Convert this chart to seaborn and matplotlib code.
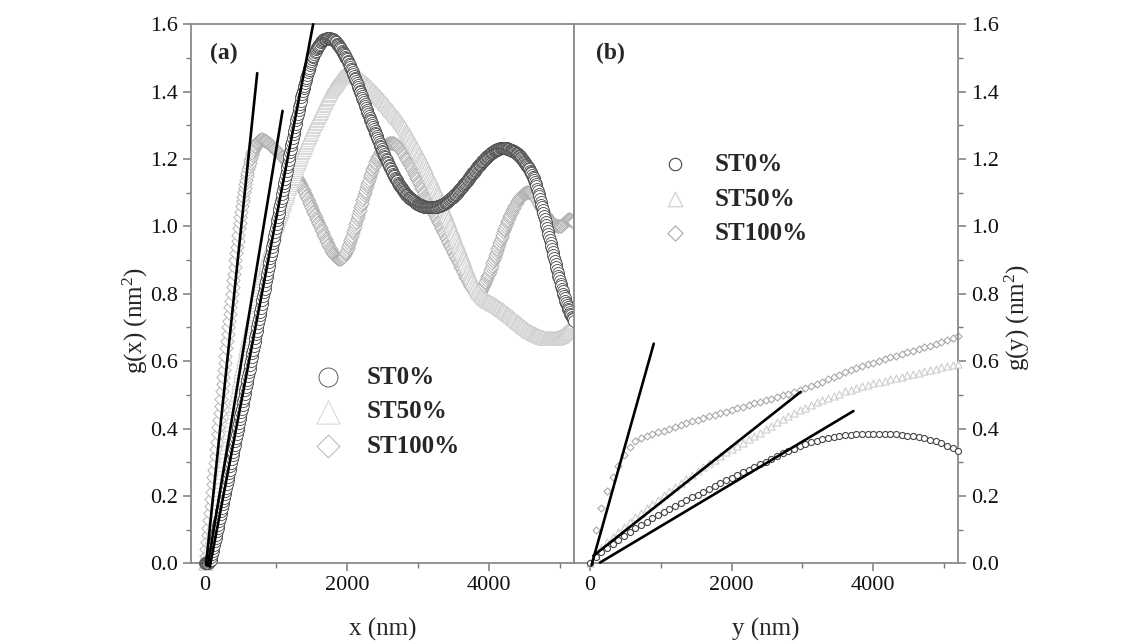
import matplotlib
matplotlib.use("Agg")
import matplotlib.pyplot as plt
from matplotlib.ticker import MultipleLocator, FormatStrFormatter
import seaborn as sns

# ---------------------------------------------------------------- data
# lag positions (nm): 10 nm steps along x, 80 nm steps along y
lag_x = list(range(0, 5201, 10))
lag_y = list(range(0, 5201, 80))

series_labels = ["ST0%", "ST50%", "ST100%"]

# g(x) (nm^2) along x, one row per 100 nm
gx_st0 = [
    0.000, 0.000, 0.000, 0.000, 0.000, 0.001, 0.003, 0.006, 0.010, 0.018,
    0.027, 0.036, 0.045, 0.055, 0.065, 0.075, 0.085, 0.095, 0.105, 0.115,
    0.125, 0.135, 0.145, 0.155, 0.165, 0.175, 0.185, 0.195, 0.205, 0.215,
    0.225, 0.236, 0.246, 0.257, 0.267, 0.278, 0.288, 0.299, 0.309, 0.320,
    0.330, 0.341, 0.352, 0.363, 0.373, 0.384, 0.395, 0.405, 0.416, 0.427,
    0.438, 0.448, 0.459, 0.470, 0.481, 0.491, 0.502, 0.513, 0.524, 0.534,
    0.545, 0.556, 0.567, 0.578, 0.590, 0.601, 0.612, 0.623, 0.634, 0.646,
    0.657, 0.668, 0.680, 0.691, 0.702, 0.714, 0.725, 0.736, 0.747, 0.759,
    0.770, 0.781, 0.792, 0.804, 0.815, 0.826, 0.837, 0.849, 0.860, 0.871,
    0.883, 0.894, 0.905, 0.916, 0.928, 0.939, 0.950, 0.961, 0.973, 0.984,
    0.995, 1.006, 1.018, 1.029, 1.040, 1.051, 1.063, 1.074, 1.085, 1.096,
    1.108, 1.119, 1.130, 1.141, 1.153, 1.164, 1.175, 1.186, 1.198, 1.209,
    1.220, 1.231, 1.242, 1.252, 1.263, 1.273, 1.284, 1.294, 1.305, 1.315,
    1.325, 1.335, 1.345, 1.355, 1.364, 1.373, 1.383, 1.392, 1.401, 1.410,
    1.418, 1.426, 1.434, 1.442, 1.450, 1.457, 1.464, 1.471, 1.478, 1.484,
    1.490, 1.496, 1.502, 1.507, 1.512, 1.517, 1.522, 1.526, 1.530, 1.534,
    1.537, 1.540, 1.543, 1.546, 1.548, 1.550, 1.552, 1.554, 1.555, 1.556,
    1.557, 1.557, 1.558, 1.558, 1.558, 1.558, 1.558, 1.557, 1.557, 1.556,
    1.555, 1.553, 1.552, 1.550, 1.548, 1.546, 1.543, 1.541, 1.538, 1.535,
    1.532, 1.529, 1.526, 1.522, 1.519, 1.515, 1.512, 1.508, 1.504, 1.500,
    1.496, 1.491, 1.487, 1.482, 1.478, 1.473, 1.468, 1.463, 1.458, 1.453,
    1.448, 1.442, 1.437, 1.431, 1.426, 1.420, 1.415, 1.409, 1.403, 1.398,
    1.392, 1.386, 1.380, 1.375, 1.369, 1.363, 1.357, 1.352, 1.346, 1.340,
    1.335, 1.329, 1.323, 1.317, 1.312, 1.306, 1.300, 1.295, 1.289, 1.284,
    1.278, 1.273, 1.267, 1.262, 1.256, 1.251, 1.246, 1.240, 1.235, 1.230,
    1.225, 1.220, 1.215, 1.210, 1.205, 1.201, 1.196, 1.191, 1.187, 1.182,
    1.178, 1.174, 1.169, 1.165, 1.161, 1.157, 1.153, 1.149, 1.145, 1.141,
    1.138, 1.134, 1.130, 1.127, 1.124, 1.120, 1.117, 1.114, 1.111, 1.108,
    1.105, 1.102, 1.099, 1.097, 1.094, 1.092, 1.089, 1.087, 1.085, 1.083,
    1.082, 1.080, 1.078, 1.077, 1.075, 1.074, 1.072, 1.071, 1.069, 1.068,
    1.067, 1.066, 1.065, 1.064, 1.063, 1.062, 1.061, 1.060, 1.060, 1.059,
    1.059, 1.058, 1.058, 1.058, 1.057, 1.057, 1.057, 1.057, 1.057, 1.057,
    1.057, 1.057, 1.057, 1.058, 1.058, 1.058, 1.059, 1.059, 1.060, 1.061,
    1.062, 1.062, 1.063, 1.064, 1.065, 1.066, 1.067, 1.068, 1.069, 1.071,
    1.072, 1.073, 1.075, 1.076, 1.078, 1.080, 1.081, 1.083, 1.085, 1.087,
    1.089, 1.091, 1.093, 1.095, 1.097, 1.100, 1.102, 1.105, 1.107, 1.110,
    1.112, 1.115, 1.117, 1.120, 1.122, 1.125, 1.128, 1.130, 1.133, 1.136,
    1.139, 1.141, 1.144, 1.147, 1.149, 1.152, 1.155, 1.158, 1.160, 1.163,
    1.166, 1.168, 1.171, 1.173, 1.176, 1.178, 1.181, 1.183, 1.186, 1.188,
    1.191, 1.193, 1.195, 1.197, 1.200, 1.202, 1.204, 1.206, 1.208, 1.210,
    1.212, 1.214, 1.216, 1.217, 1.219, 1.220, 1.222, 1.223, 1.225, 1.226,
    1.227, 1.228, 1.229, 1.230, 1.231, 1.231, 1.232, 1.232, 1.233, 1.233,
    1.233, 1.233, 1.233, 1.233, 1.232, 1.232, 1.231, 1.231, 1.230, 1.229,
    1.228, 1.227, 1.226, 1.225, 1.224, 1.223, 1.221, 1.220, 1.218, 1.217,
    1.216, 1.214, 1.212, 1.210, 1.208, 1.206, 1.203, 1.201, 1.198, 1.195,
    1.192, 1.189, 1.186, 1.183, 1.180, 1.176, 1.173, 1.169, 1.166, 1.162,
    1.158, 1.153, 1.148, 1.143, 1.138, 1.132, 1.126, 1.119, 1.112, 1.105,
    1.097, 1.089, 1.081, 1.073, 1.065, 1.057, 1.048, 1.040, 1.031, 1.023,
    1.014, 1.005, 0.996, 0.987, 0.978, 0.969, 0.960, 0.951, 0.942, 0.933,
    0.924, 0.915, 0.906, 0.897, 0.888, 0.879, 0.871, 0.863, 0.854, 0.846,
    0.838, 0.830, 0.822, 0.815, 0.808, 0.800, 0.793, 0.787, 0.780, 0.774,
    0.768, 0.762, 0.756, 0.751, 0.746, 0.741, 0.736, 0.732, 0.728, 0.724,
    0.720,
]
gx_st50 = [
    0.000, 0.002, 0.006, 0.012, 0.020, 0.030, 0.042, 0.055, 0.068, 0.082,
    0.095, 0.108, 0.120, 0.133, 0.145, 0.158, 0.170, 0.183, 0.195, 0.208,
    0.220, 0.233, 0.245, 0.258, 0.270, 0.283, 0.295, 0.308, 0.320, 0.333,
    0.345, 0.357, 0.368, 0.380, 0.391, 0.403, 0.414, 0.426, 0.437, 0.449,
    0.460, 0.471, 0.482, 0.493, 0.504, 0.515, 0.526, 0.537, 0.548, 0.559,
    0.570, 0.580, 0.590, 0.600, 0.610, 0.620, 0.630, 0.640, 0.650, 0.660,
    0.670, 0.679, 0.689, 0.698, 0.707, 0.716, 0.726, 0.735, 0.744, 0.753,
    0.763, 0.771, 0.780, 0.789, 0.798, 0.806, 0.815, 0.824, 0.833, 0.841,
    0.850, 0.858, 0.865, 0.873, 0.880, 0.888, 0.895, 0.903, 0.910, 0.918,
    0.925, 0.933, 0.940, 0.948, 0.955, 0.963, 0.970, 0.978, 0.985, 0.993,
    1.000, 1.006, 1.013, 1.019, 1.025, 1.031, 1.038, 1.044, 1.050, 1.056,
    1.063, 1.069, 1.075, 1.081, 1.088, 1.094, 1.100, 1.106, 1.113, 1.119,
    1.125, 1.131, 1.137, 1.143, 1.148, 1.154, 1.160, 1.166, 1.171, 1.177,
    1.183, 1.188, 1.194, 1.199, 1.204, 1.209, 1.214, 1.220, 1.225, 1.230,
    1.235, 1.240, 1.245, 1.250, 1.254, 1.259, 1.264, 1.269, 1.273, 1.278,
    1.283, 1.288, 1.292, 1.297, 1.301, 1.306, 1.310, 1.315, 1.319, 1.324,
    1.328, 1.332, 1.337, 1.341, 1.346, 1.350, 1.355, 1.359, 1.364, 1.368,
    1.373, 1.377, 1.381, 1.385, 1.389, 1.393, 1.397, 1.401, 1.405, 1.408,
    1.412, 1.415, 1.418, 1.421, 1.424, 1.427, 1.430, 1.433, 1.436, 1.438,
    1.441, 1.443, 1.445, 1.447, 1.449, 1.450, 1.451, 1.452, 1.453, 1.454,
    1.455, 1.455, 1.456, 1.456, 1.456, 1.455, 1.455, 1.454, 1.453, 1.452,
    1.451, 1.450, 1.449, 1.448, 1.446, 1.445, 1.443, 1.442, 1.440, 1.439,
    1.438, 1.436, 1.434, 1.432, 1.430, 1.428, 1.426, 1.424, 1.422, 1.421,
    1.419, 1.417, 1.415, 1.413, 1.410, 1.408, 1.406, 1.404, 1.401, 1.399,
    1.397, 1.395, 1.393, 1.390, 1.388, 1.386, 1.384, 1.381, 1.379, 1.377,
    1.375, 1.372, 1.370, 1.367, 1.365, 1.362, 1.360, 1.357, 1.355, 1.352,
    1.350, 1.347, 1.345, 1.342, 1.339, 1.337, 1.334, 1.331, 1.329, 1.326,
    1.324, 1.321, 1.318, 1.315, 1.312, 1.309, 1.306, 1.303, 1.300, 1.297,
    1.294, 1.291, 1.287, 1.284, 1.281, 1.277, 1.274, 1.270, 1.267, 1.263,
    1.260, 1.256, 1.252, 1.249, 1.245, 1.241, 1.237, 1.234, 1.230, 1.226,
    1.222, 1.218, 1.214, 1.210, 1.206, 1.201, 1.197, 1.193, 1.189, 1.185,
    1.181, 1.176, 1.172, 1.167, 1.163, 1.158, 1.154, 1.149, 1.145, 1.140,
    1.136, 1.131, 1.126, 1.122, 1.117, 1.112, 1.107, 1.102, 1.098, 1.093,
    1.088, 1.083, 1.078, 1.073, 1.068, 1.063, 1.058, 1.052, 1.047, 1.042,
    1.037, 1.032, 1.026, 1.021, 1.016, 1.011, 1.005, 1.000, 0.995, 0.989,
    0.984, 0.979, 0.973, 0.968, 0.962, 0.957, 0.951, 0.946, 0.940, 0.935,
    0.929, 0.924, 0.918, 0.913, 0.907, 0.902, 0.896, 0.891, 0.885, 0.880,
    0.874, 0.869, 0.863, 0.858, 0.853, 0.848, 0.843, 0.838, 0.833, 0.828,
    0.823, 0.819, 0.815, 0.811, 0.808, 0.805, 0.802, 0.799, 0.797, 0.795,
    0.793, 0.791, 0.789, 0.788, 0.786, 0.785, 0.783, 0.782, 0.780, 0.779,
    0.778, 0.777, 0.775, 0.774, 0.773, 0.772, 0.770, 0.769, 0.768, 0.767,
    0.766, 0.764, 0.763, 0.761, 0.760, 0.758, 0.757, 0.755, 0.754, 0.752,
    0.751, 0.749, 0.748, 0.746, 0.744, 0.743, 0.741, 0.739, 0.738, 0.736,
    0.735, 0.733, 0.731, 0.729, 0.728, 0.726, 0.724, 0.722, 0.720, 0.719,
    0.717, 0.715, 0.714, 0.712, 0.710, 0.709, 0.707, 0.705, 0.703, 0.702,
    0.700, 0.698, 0.697, 0.696, 0.694, 0.693, 0.691, 0.690, 0.689, 0.687,
    0.686, 0.685, 0.684, 0.683, 0.682, 0.681, 0.680, 0.679, 0.678, 0.677,
    0.676, 0.675, 0.674, 0.673, 0.673, 0.672, 0.671, 0.671, 0.670, 0.670,
    0.669, 0.669, 0.669, 0.668, 0.668, 0.668, 0.668, 0.668, 0.668, 0.668,
    0.668, 0.669, 0.669, 0.669, 0.670, 0.670, 0.671, 0.671, 0.672, 0.673,
    0.674, 0.675, 0.676, 0.678, 0.679, 0.681, 0.683, 0.684, 0.686, 0.688,
    0.690, 0.693, 0.696, 0.698, 0.701, 0.704, 0.707, 0.710, 0.714, 0.717,
    0.720,
]
gx_st100 = [
    0.000, 0.021, 0.043, 0.064, 0.085, 0.106, 0.128, 0.149, 0.170, 0.191,
    0.213, 0.234, 0.255, 0.276, 0.298, 0.319, 0.340, 0.361, 0.383, 0.404,
    0.425, 0.446, 0.468, 0.489, 0.510, 0.531, 0.553, 0.574, 0.595, 0.616,
    0.638, 0.659, 0.680, 0.700, 0.720, 0.740, 0.760, 0.780, 0.800, 0.820,
    0.840, 0.860, 0.880, 0.900, 0.920, 0.939, 0.958, 0.976, 0.995, 1.011,
    1.028, 1.044, 1.060, 1.074, 1.088, 1.101, 1.115, 1.127, 1.138, 1.149,
    1.160, 1.170, 1.179, 1.188, 1.197, 1.204, 1.211, 1.218, 1.225, 1.230,
    1.235, 1.240, 1.245, 1.248, 1.251, 1.253, 1.256, 1.257, 1.258, 1.259,
    1.259, 1.259, 1.258, 1.257, 1.256, 1.255, 1.253, 1.252, 1.250, 1.248,
    1.247, 1.245, 1.243, 1.241, 1.239, 1.237, 1.235, 1.233, 1.231, 1.229,
    1.227, 1.225, 1.223, 1.221, 1.219, 1.217, 1.214, 1.212, 1.210, 1.207,
    1.205, 1.203, 1.200, 1.198, 1.195, 1.192, 1.189, 1.186, 1.184, 1.181,
    1.178, 1.175, 1.172, 1.168, 1.165, 1.161, 1.158, 1.154, 1.151, 1.147,
    1.144, 1.140, 1.136, 1.132, 1.128, 1.124, 1.120, 1.116, 1.111, 1.107,
    1.103, 1.098, 1.094, 1.089, 1.085, 1.080, 1.075, 1.071, 1.066, 1.061,
    1.057, 1.052, 1.047, 1.042, 1.038, 1.033, 1.028, 1.023, 1.019, 1.014,
    1.009, 1.004, 1.000, 0.995, 0.990, 0.985, 0.981, 0.976, 0.971, 0.967,
    0.962, 0.958, 0.953, 0.949, 0.945, 0.940, 0.936, 0.932, 0.928, 0.925,
    0.921, 0.918, 0.915, 0.912, 0.910, 0.908, 0.906, 0.905, 0.904, 0.904,
    0.904, 0.904, 0.905, 0.906, 0.908, 0.910, 0.913, 0.917, 0.921, 0.925,
    0.930, 0.935, 0.941, 0.947, 0.953, 0.959, 0.966, 0.972, 0.979, 0.985,
    0.992, 0.999, 1.006, 1.014, 1.021, 1.028, 1.035, 1.042, 1.050, 1.057,
    1.064, 1.071, 1.078, 1.085, 1.092, 1.099, 1.106, 1.113, 1.120, 1.126,
    1.133, 1.139, 1.146, 1.152, 1.158, 1.164, 1.169, 1.175, 1.180, 1.186,
    1.191, 1.196, 1.200, 1.205, 1.209, 1.213, 1.217, 1.220, 1.224, 1.227,
    1.230, 1.233, 1.235, 1.238, 1.240, 1.242, 1.243, 1.245, 1.246, 1.247,
    1.248, 1.248, 1.249, 1.249, 1.248, 1.248, 1.247, 1.246, 1.245, 1.243,
    1.241, 1.239, 1.237, 1.234, 1.232, 1.229, 1.226, 1.223, 1.220, 1.218,
    1.215, 1.211, 1.207, 1.203, 1.200, 1.196, 1.192, 1.188, 1.184, 1.181,
    1.178, 1.174, 1.170, 1.166, 1.161, 1.157, 1.153, 1.149, 1.144, 1.140,
    1.136, 1.132, 1.128, 1.123, 1.119, 1.115, 1.111, 1.106, 1.102, 1.098,
    1.094, 1.089, 1.085, 1.081, 1.077, 1.072, 1.068, 1.064, 1.060, 1.055,
    1.051, 1.047, 1.043, 1.038, 1.034, 1.030, 1.026, 1.021, 1.017, 1.013,
    1.009, 1.004, 1.000, 0.996, 0.992, 0.987, 0.983, 0.979, 0.975, 0.970,
    0.966, 0.962, 0.958, 0.953, 0.949, 0.945, 0.941, 0.936, 0.932, 0.928,
    0.924, 0.919, 0.915, 0.911, 0.907, 0.902, 0.898, 0.894, 0.890, 0.885,
    0.881, 0.877, 0.873, 0.868, 0.864, 0.860, 0.856, 0.851, 0.847, 0.843,
    0.839, 0.835, 0.831, 0.827, 0.823, 0.819, 0.816, 0.813, 0.810, 0.807,
    0.805, 0.803, 0.801, 0.800, 0.800, 0.800, 0.801, 0.803, 0.805, 0.809,
    0.813, 0.817, 0.821, 0.826, 0.831, 0.836, 0.841, 0.847, 0.852, 0.856,
    0.860, 0.866, 0.872, 0.878, 0.884, 0.890, 0.897, 0.903, 0.909, 0.915,
    0.921, 0.927, 0.934, 0.940, 0.946, 0.952, 0.958, 0.964, 0.970, 0.976,
    0.982, 0.988, 0.993, 0.999, 1.004, 1.009, 1.015, 1.020, 1.025, 1.030,
    1.035, 1.039, 1.044, 1.048, 1.052, 1.056, 1.060, 1.064, 1.068, 1.071,
    1.075, 1.078, 1.081, 1.084, 1.086, 1.089, 1.091, 1.093, 1.095, 1.097,
    1.098, 1.099, 1.100, 1.101, 1.102, 1.102, 1.102, 1.102, 1.101, 1.100,
    1.099, 1.097, 1.095, 1.093, 1.090, 1.087, 1.084, 1.080, 1.077, 1.073,
    1.070, 1.066, 1.062, 1.058, 1.055, 1.051, 1.047, 1.044, 1.040, 1.037,
    1.033, 1.030, 1.027, 1.024, 1.021, 1.018, 1.016, 1.013, 1.011, 1.009,
    1.008, 1.006, 1.005, 1.004, 1.003, 1.002, 1.001, 1.000, 1.000, 1.000,
    1.000, 1.001, 1.002, 1.004, 1.006, 1.008, 1.010, 1.012, 1.014, 1.016,
    1.018, 1.020, 1.021, 1.021, 1.021, 1.020, 1.019, 1.017, 1.015, 1.013,
    1.012,
]

# g(y) (nm^2) along y
gy_st0 = [
    0.000, 0.018, 0.033, 0.046, 0.058, 0.070, 0.082, 0.093, 0.104, 0.114,
    0.124, 0.134, 0.143, 0.152, 0.161, 0.170, 0.179, 0.187, 0.196, 0.204,
    0.213, 0.221, 0.229, 0.238, 0.246, 0.254, 0.262, 0.270, 0.278, 0.286,
    0.294, 0.302, 0.310, 0.318, 0.326, 0.333, 0.340, 0.347, 0.353, 0.359,
    0.364, 0.368, 0.372, 0.375, 0.378, 0.380, 0.382, 0.383, 0.384, 0.385,
    0.385, 0.385, 0.385, 0.384, 0.383, 0.381, 0.379, 0.377, 0.374, 0.371,
    0.367, 0.362, 0.356, 0.349, 0.341, 0.333,
]
gy_st50 = [
    0.000, 0.025, 0.045, 0.062, 0.078, 0.093, 0.108, 0.122, 0.136, 0.150,
    0.163, 0.176, 0.189, 0.202, 0.215, 0.227, 0.239, 0.251, 0.263, 0.275,
    0.286, 0.297, 0.308, 0.319, 0.330, 0.340, 0.349, 0.358, 0.368, 0.378,
    0.388, 0.398, 0.408, 0.418, 0.428, 0.437, 0.446, 0.454, 0.462, 0.470,
    0.478, 0.485, 0.492, 0.498, 0.504, 0.510, 0.515, 0.520, 0.525, 0.530,
    0.534, 0.538, 0.542, 0.546, 0.550, 0.554, 0.558, 0.562, 0.566, 0.570,
    0.574, 0.578, 0.582, 0.586, 0.590, 0.593,
]
gy_st100 = [
    0.000, 0.100, 0.165, 0.215, 0.255, 0.290, 0.320, 0.345, 0.362, 0.372,
    0.379, 0.384, 0.389, 0.394, 0.399, 0.405, 0.411, 0.416, 0.421, 0.426,
    0.431, 0.436, 0.441, 0.446, 0.450, 0.455, 0.460, 0.465, 0.470, 0.475,
    0.480, 0.485, 0.489, 0.494, 0.499, 0.504, 0.509, 0.514, 0.520, 0.526,
    0.532, 0.539, 0.546, 0.553, 0.560, 0.567, 0.574, 0.580, 0.586, 0.591,
    0.596, 0.601, 0.606, 0.611, 0.616, 0.621, 0.626, 0.631, 0.636, 0.641,
    0.646, 0.652, 0.658, 0.664, 0.670, 0.676,
]

# linear fits at small lags: (start, end) lag and g values
fit_x_lag = [[15, 737], [40, 1094], [70, 1525]]
fit_x_val = [[-0.005, 1.455], [-0.008, 1.343], [-0.010, 1.600]]
fit_y_lag = [[23, 901], [47, 2975], [141, 3720]]
fit_y_val = [[-0.005, 0.652], [0.022, 0.509], [0.002, 0.452]]

x_ticks = [0, 2000, 4000]

# ---------------------------------------------------------------- style
sns.set_theme(style="ticks")
plt.rcParams["font.family"] = ["Liberation Serif", "DejaVu Serif"]
plt.rcParams["mathtext.fontset"] = "custom"
plt.rcParams["mathtext.rm"] = "Liberation Serif"
plt.rcParams["mathtext.it"] = "Liberation Serif:italic"

W, H = 1138, 642
fig = plt.figure(figsize=(W / 100, H / 100), dpi=100)
fig.patch.set_facecolor("white")


def frac_box(x0, x1, y_top, y_bot):
    return [x0 / W, 1 - y_bot / H, (x1 - x0) / W, (y_bot - y_top) / H]


ax_a = fig.add_axes(frac_box(190.7, 574.0, 24.3, 563.3))
ax_b = fig.add_axes(frac_box(574.0, 958.3, 24.3, 563.3))

spine_col = "#8a8a8a"
tick_col = "#7a7a7a"

styles = [
    # marker, edge colour, z-order
    ("o", "#454545", 4),
    ("^", "#cdcdcd", 3),
    ("D", "#aaaaaa", 2),
]


def draw_panel(ax, lags, series, sizes, lw, fit_lag, fit_val):
    handles = []
    for (marker, edge, z), vals, s in zip(styles, series, sizes):
        sns.scatterplot(x=lags, y=vals, ax=ax, marker=marker, s=s,
                        color="white", edgecolor=edge, linewidth=lw,
                        zorder=z, clip_on=False, legend=False)
        handles.append(ax.collections[-1])
    for lx, ly in zip(fit_lag, fit_val):
        sns.lineplot(x=lx, y=ly, ax=ax, color="black", linewidth=1.9,
                     zorder=6, clip_on=False, legend=False)
    return handles


h_a = draw_panel(ax_a, lag_x, [gx_st0, gx_st50, gx_st100],
                 [74, 95, 46], 0.6, fit_x_lag, fit_x_val)
h_b = draw_panel(ax_b, lag_y, [gy_st0, gy_st50, gy_st100],
                 [19, 26, 13], 0.8, fit_y_lag, fit_y_val)

for ax, xmin in ((ax_a, -200), (ax_b, -225)):
    ax.set_xlim(xmin, 5200)
    ax.set_ylim(0, 1.6)
    ax.set_xticks(x_ticks)
    ax.xaxis.set_minor_locator(MultipleLocator(1000))
    ax.yaxis.set_major_locator(MultipleLocator(0.2))
    ax.yaxis.set_minor_locator(MultipleLocator(0.1))
    ax.yaxis.set_major_formatter(FormatStrFormatter("%.1f"))
    ax.set_facecolor("white")
    for sp in ax.spines.values():
        sp.set_visible(True)
        sp.set_color(spine_col)
        sp.set_linewidth(1.3)
    ax.tick_params(which="major", direction="out", length=6, width=1.1,
                   color=tick_col, labelsize=16, pad=3.5,
                   labelcolor="#111111")
    ax.tick_params(which="minor", direction="out", length=3.5, width=1.0,
                   color=tick_col)
    ax.tick_params(axis="x", top=False, bottom=True)

ax_a.tick_params(axis="y", which="both", left=True, right=False)
ax_b.yaxis.tick_right()
ax_b.yaxis.set_label_position("right")
ax_b.tick_params(axis="y", which="both", left=False, right=True)

ax_a.set_xlabel("x (nm)", fontsize=18)
ax_b.set_xlabel("y (nm)", fontsize=18)
ax_a.xaxis.set_label_coords(0.5, -0.102)
ax_b.xaxis.set_label_coords(0.5, -0.102)
ax_a.set_ylabel(r"g(x) (nm$^{2}$)", fontsize=18)
ax_b.set_ylabel(r"g(y) (nm$^{2}$)", fontsize=18)
ax_a.yaxis.set_label_coords(-0.106, 0.451)
ax_b.yaxis.set_label_coords(1.115, 0.456)

ax_a.text(0.050, 0.945, "(a)", transform=ax_a.transAxes, fontsize=17,
          fontweight="bold", ha="left", va="center")
ax_b.text(0.056, 0.945, "(b)", transform=ax_b.transAxes, fontsize=17,
          fontweight="bold", ha="left", va="center")


def add_legend(ax, handles, left_px, mid_px, sizes):
    leg = ax.legend(handles, series_labels, loc="center left",
                    bbox_to_anchor=(left_px / W, 1 - mid_px / H),
                    bbox_transform=fig.transFigure, frameon=False,
                    prop={"weight": "bold", "size": 18},
                    handlelength=1.2, handletextpad=0.96, borderpad=0,
                    borderaxespad=0, labelspacing=0.46, scatterpoints=1)
    for h, s in zip(leg.legend_handles, sizes):
        h.set_sizes([s])
    return leg


add_legend(ax_a, h_a, 312.7, 411.7, [187, 280, 135])
add_legend(ax_b, h_b, 660.4, 199.0, [80, 110, 60])

fig.savefig("out.png", dpi=100, facecolor="white")
